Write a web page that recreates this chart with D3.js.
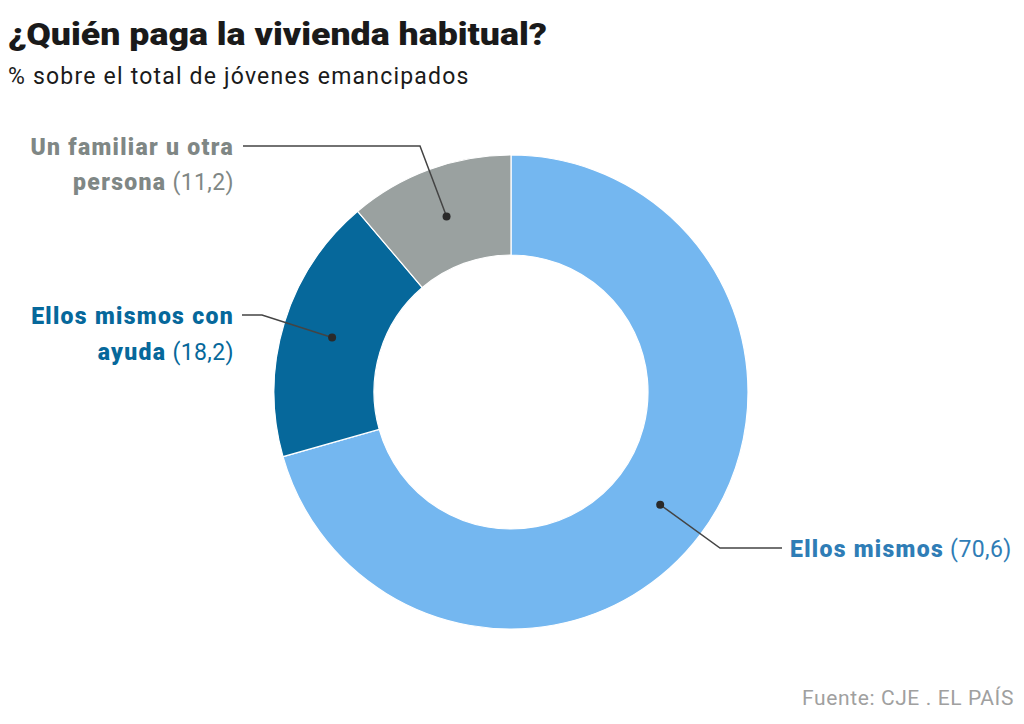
<!DOCTYPE html>
<html>
<head>
<meta charset="utf-8">
<script src="https://cdn.jsdelivr.net/npm/d3@7"></script>
<style>
  body { margin: 0; background: #fff; }
  svg { display: block; font-family: Roboto, "Liberation Sans", sans-serif; }
</style>
</head>
<body>
<svg id="chart" width="1024" height="724"></svg>
<script>
// data
var categories = ["Ellos mismos", "Ellos mismos con ayuda", "Un familiar u otra persona"];
var values = [70.6, 18.2, 11.2];
var labelBold = [["Ellos mismos"], ["Ellos mismos con", "ayuda"], ["Un familiar u otra", "persona"]];
var labelValue = ["(70,6)", "(18,2)", "(11,2)"];

var sliceColor = d3.scaleOrdinal().domain(categories).range(["#74b7f0", "#06689b", "#9aa1a0"]);
var textColor = d3.scaleOrdinal().domain(categories).range(["#2f7db6", "#06689b", "#7f8785"]);

var svg = d3.select("#chart");

svg.append("text").attr("x", 8).attr("y", 45)
    .attr("font-size", 31).attr("font-weight", 900).attr("fill", "#1a1a1a")
    .attr("textLength", 539).attr("lengthAdjust", "spacingAndGlyphs")
    .text("¿Quién paga la vivienda habitual?");
svg.append("text").attr("x", 8).attr("y", 84)
    .attr("font-size", 23).attr("fill", "#1a1a1a").attr("letter-spacing", 1.2)
    .text("% sobre el total de jóvenes emancipados");
svg.append("text").attr("x", 1014).attr("y", 705)
    .attr("text-anchor", "end").attr("font-size", 21).attr("fill", "#a0a0a0")
    .attr("letter-spacing", 0.6)
    .text("Fuente: CJE . EL PAÍS");

var cx = 511, cy = 392, rOut = 237, rIn = 137;
var pie = d3.pie().sort(null).value(function (d) { return d.v; });
var arc = d3.arc().innerRadius(rIn).outerRadius(rOut);
var rows = categories.map(function (c, i) { return { c: c, v: values[i], i: i }; });
var arcs = pie(rows);

var g = svg.append("g").attr("transform", "translate(" + cx + "," + cy + ")");
g.selectAll("path").data(arcs).enter().append("path")
    .attr("d", arc)
    .attr("fill", function (d) { return sliceColor(d.data.c); })
    .attr("stroke", "#fff").attr("stroke-width", 1.2);

// label layout: elbow point, end of line, text anchor, text position
var layout = [
    { elbow: [720, 548], end: [782, 548], anchor: "start", tx: 790, ty: [557] },
    { elbow: [262, 315], end: [242, 315], anchor: "end", tx: 234, ty: [324, 360] },
    { elbow: [420, 146], end: [243, 146], anchor: "end", tx: 234, ty: [155, 190] }
];

arcs.forEach(function (a, i) {
    var c = arc.centroid(a);
    var p = [cx + c[0], cy + c[1]];
    var L = layout[i];
    svg.append("path")
        .attr("d", d3.line()([p, L.elbow, L.end]))
        .attr("fill", "none").attr("stroke", "#444").attr("stroke-width", 1.5);
    svg.append("circle").attr("cx", p[0]).attr("cy", p[1]).attr("r", 4).attr("fill", "#2a2a2a");
    var lines = labelBold[i];
    lines.forEach(function (ln, j) {
        var t = svg.append("text").attr("x", L.tx).attr("y", L.ty[j])
            .attr("text-anchor", L.anchor).attr("font-size", 23)
            .attr("fill", textColor(a.data.c));
        t.append("tspan").attr("font-weight", 900).attr("letter-spacing", 1.3).text(ln);
        if (j === lines.length - 1) {
            t.append("tspan").attr("font-weight", 400).attr("letter-spacing", 0.4).text(" " + labelValue[i]);
        }
    });
});
</script>
</body>
</html>
